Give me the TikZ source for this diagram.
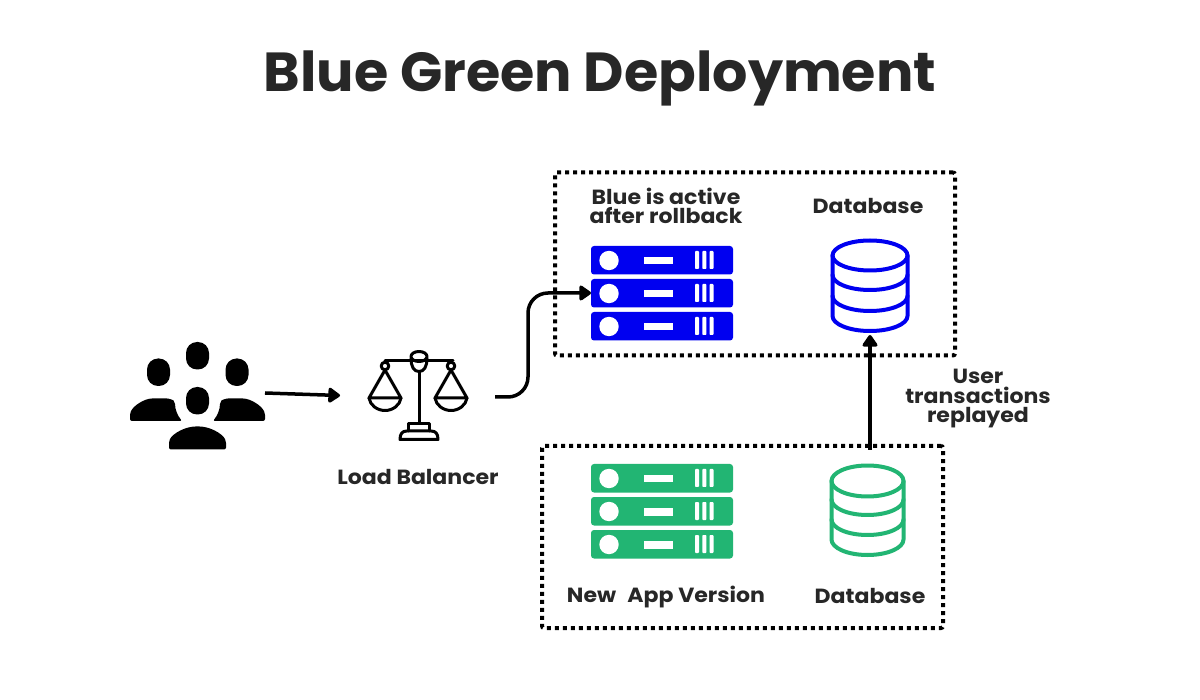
\documentclass[tikz,border=0pt]{standalone}
\usepackage{fontspec}
\setmainfont{Poppins}[FakeStretch=1.075]
\newfontfamily\titlefont{Poppins}[FakeStretch=1.01]
\usetikzlibrary{arrows.meta}
\definecolor{ink}{HTML}{272727}
\definecolor{bluec}{HTML}{0000F0}
\definecolor{greenc}{HTML}{22B573}
\tikzset{
  anchorbox/.style={inner sep=0pt,outer sep=0pt,minimum width=#1},
  dotbox/.style={draw=black,line width=4pt,dash pattern=on 4pt off 4pt,rounded corners=2pt,inner sep=0pt,outer sep=0pt},
  lbl/.style={text=ink,font=\bfseries\fontsize{20.5}{19.5}\selectfont,align=center,inner sep=0pt},
  conn/.style={draw=black,line width=3.5pt,-{Triangle[length=13pt,width=17pt,round]},rounded corners=20pt},
  icon/.style={draw=black,line width=3pt,line cap=round,line join=round},
  dbline/.style={line width=4pt,line join=round,line cap=round,fill=none},
}
\newcommand{\srvrow}[2]{% y-top, colour
  \fill[#2,rounded corners=3pt] (591,#1) rectangle (733,#1+28.5);
  \fill[white] (609,#1+14.5) circle (9.7);
  \fill[white] (644,#1+11) rectangle (673,#1+18.5);
  \fill[white,rounded corners=.8pt] (695,#1+5) rectangle (699,#1+23);
  \fill[white,rounded corners=.8pt] (702.3,#1+5) rectangle (706.3,#1+23);
  \fill[white,rounded corners=.8pt] (709.5,#1+5) rectangle (713.5,#1+23);
}
\newcommand{\dbicon}[8]{% cx, rx, ytop centre, ysplit2, ysplit3, ybottom, ry, colour
  \draw[dbline,#8] (#1,#3) ellipse [x radius=#2,y radius=#7];
  \draw[dbline,#8] (#1-#2,#3) -- (#1-#2,#6-#7) arc[start angle=180,end angle=360,x radius=#2,y radius=-#7] -- (#1+#2,#3);
  \draw[dbline,#8] (#1-#2,#4-#7) arc[start angle=180,end angle=360,x radius=#2,y radius=-#7];
  \draw[dbline,#8] (#1-#2,#5-#7) arc[start angle=180,end angle=360,x radius=#2,y radius=-#7];
}
\newcommand{\headshape}[2]{\fill[black,rounded corners=11pt] (#1-11.5,#2) rectangle (#1+11.5,#2+27.5);}
\begin{document}
\begin{tikzpicture}[x=1pt,y=-1pt]
\useasboundingbox (0,0) rectangle (1200,700);
\fill[white] (0,0) rectangle (1200,700);
\node[text=ink,font=\titlefont\bfseries\fontsize{55}{60}\selectfont,inner sep=0pt] (title) at (600,78) {Blue Green Deployment};

% dotted boxes
\node[dotbox,minimum width=400pt,minimum height=183pt] (bluebox) at (755,264) {};
\node[dotbox,minimum width=401pt,minimum height=182pt] (greenbox) at (742.5,537) {};

% users
\headshape{197.5}{342}
\headshape{158.5}{358.5}
\headshape{237}{358.5}
\headshape{197.5}{387}
\fill[black,rounded corners=2pt] (130,421) -- (130,413) .. controls (134,405) and (145,398.5) .. (154,398.5) -- (165,398.5) .. controls (169,398.5) and (173,400) .. (175,402) .. controls (175,410) and (178,416) .. (182,421) -- cycle;
\fill[black,rounded corners=2pt] (265,421) -- (265,413) .. controls (261,405) and (250,398.5) .. (241,398.5) -- (230,398.5) .. controls (226,398.5) and (222,400) .. (220,402) .. controls (220,410) and (217,416) .. (213,421) -- cycle;
\fill[black,rounded corners=2pt] (169,449.5) -- (169,441) .. controls (173,433) and (186,426.5) .. (197.5,426.5) .. controls (209,426.5) and (222,433) .. (226,441) -- (226,449.5) -- cycle;
\node[anchorbox=135pt,minimum height=100pt] (users) at (197.5,393) {};

% load balancer scales
\draw[icon] (385,361) -- (453,361);
\draw[icon] (385,366) circle (3.8);
\draw[icon] (451,366) circle (3.8);
\draw[icon] (419,356.5) ellipse [x radius=8,y radius=5];
\draw[icon] (411,358) .. controls (411,367) and (414,371.5) .. (419,371.5) .. controls (424,371.5) and (427,367) .. (427,358);
\draw[icon] (419,372) -- (419,423);
\draw[icon] (408.5,431) -- (408.5,423.5) -- (429.5,423.5) -- (429.5,431);
\draw[icon] (400,439.5) .. controls (400,434) and (402,431) .. (407,431) -- (431,431) .. controls (436,431) and (438,434) .. (438,439.5) -- cycle;
\draw[icon] (385,370) -- (369,398) -- (401,398) -- cycle;
\draw[icon] (369,398) .. controls (370,405) and (377,410.5) .. (385,410.5) .. controls (393,410.5) and (400,405) .. (401,398);
\draw[icon] (451,370) -- (435,398) -- (467,398) -- cycle;
\draw[icon] (435,398) .. controls (436,405) and (443,410.5) .. (451,410.5) .. controls (459,410.5) and (466,405) .. (467,398);
\node[anchorbox=128pt,minimum height=90pt] (lb) at (431,397) {};
\node[lbl] (lbtext) at (418,477) {Load Balancer};

% servers
\srvrow{246}{bluec}
\srvrow{279}{bluec}
\srvrow{312}{bluec}
\srvrow{464}{greenc}
\srvrow{497}{greenc}
\srvrow{530}{greenc}
\node[anchorbox=142pt,minimum height=94pt] (bluesrv) at (662,293) {};
\node[anchorbox=142pt,minimum height=94pt] (greensrv) at (662,511) {};

% databases
\dbicon{870}{37.5}{255.5}{290}{311}{331}{15}{bluec}
\dbicon{867.5}{36}{481}{515}{535}{555}{15.5}{greenc}
\node[anchorbox=80pt,minimum height=96pt] (bluedb) at (870,287) {};
\node[anchorbox=80pt,minimum height=108pt] (greendb) at (870,504) {};

% labels
\node[lbl] (bluelbl) at (666,206) {Blue is active\\after rollback};
\node[lbl] (bluedblbl) at (868,206) {Database};
\node[lbl] (newlbl) at (666,597) {New\hspace{.55em}App Version};
\node[lbl] (greendblbl) at (870,596) {Database};
\node[lbl] (replay) at (978,399) {User\\transactions\\replayed};

% connectors
\draw[conn] (users.east) -- (340,395.5);
\draw[conn] (lb.east) -- (528,397) |- (bluesrv.west);
\draw[conn] (greendb.north) -- (bluedb.south);
\end{tikzpicture}
\end{document}
